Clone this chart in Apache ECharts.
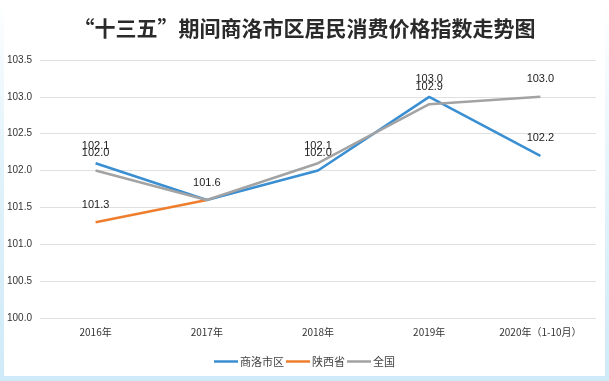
<!DOCTYPE html>
<html><head><meta charset="utf-8">
<script src="https://cdn.jsdelivr.net/npm/echarts@6/dist/echarts.min.js"></script>
<style>html,body{margin:0;padding:0;background:#fff}#c{width:609px;height:381px}</style>
</head><body><div id="c"></div>
<script>
var titleText = '“十三五”期间商洛市区居民消费价格指数走势图';
var categories = ['2016年', '2017年', '2018年', '2019年', '2020年（1-10月）'];
var seriesNames = ['商洛市区', '陕西省', '全国'];
var shangluo = [102.1, 101.6, 102.0, 103.0, 102.2];
var shaanxi = [101.3, 101.6, null, null, null];
var national = [102.0, 101.6, 102.1, 102.9, 103.0];
var yMin = 100.0, yMax = 103.5, yStep = 0.5;

var colors = ['#3a8fd3', '#ee7d2e', '#a3a3a3'];
var chart = echarts.init(document.getElementById('c'), null, {renderer: 'canvas'});

function mkSeries(name, data, color, z, hideIdx) {
  return {
    name: name, type: 'line', data: data.map(function (v, i) {
      if (hideIdx && hideIdx.indexOf(i) >= 0) return {value: v, label: {show: false}};
      return v;
    }),
    z: z, symbol: 'circle', symbolSize: 0.01, showSymbol: true,
    connectNulls: false,
    lineStyle: {color: color, width: 2.5},
    itemStyle: {color: color},
    label: {show: true, position: 'top', distance: 12, fontSize: 11, color: '#222',
      fontFamily: 'Liberation Sans, Arial, sans-serif',
      formatter: function (p) { return p.value == null ? '' : Number(p.value).toFixed(1); }},
    emphasis: {disabled: true}
  };
}

chart.setOption({
  backgroundColor: '#fff',
  animation: false,
  graphic: [
    {type: 'rect', shape: {x: 0, y: 0, width: 4, height: 381}, z: -10,
      style: {fill: new echarts.graphic.LinearGradient(0, 0, 0, 1, [{offset: 0, color: '#ffffff'}, {offset: 0.4, color: '#e2f3fb'}, {offset: 1, color: '#cfeaf8'}])}},
    {type: 'rect', shape: {x: 0, y: 376, width: 609, height: 5}, z: -10, style: {fill: '#cfeaf8'}},
    {type: 'rect', shape: {x: 605, y: 0, width: 4, height: 381}, z: -10,
      style: {fill: new echarts.graphic.LinearGradient(0, 0, 0, 1, [{offset: 0, color: '#ffffff'}, {offset: 0.5, color: '#e2f3fb'}, {offset: 1, color: '#cfeaf8'}])}}
  ],
  title: {text: titleText, left: 'center', top: 13,
    textStyle: {fontSize: 21, fontWeight: 'bold', color: '#2a2a2a', fontFamily: 'Noto Sans CJK SC'}},
  legend: {data: seriesNames, bottom: 9, left: 'center', icon: 'rect', itemWidth: 24, itemHeight: 2.5, itemGap: 2,
    textStyle: {fontSize: 11, color: '#444', fontFamily: 'Noto Sans CJK SC', padding: [0, 0, 0, -3]}},
  grid: {left: 40, right: 13, top: 60, bottom: 63},
  xAxis: {type: 'category', data: categories, boundaryGap: true,
    axisLine: {show: false}, axisTick: {show: false},
    axisLabel: {fontSize: 10, color: '#333', margin: 9, fontFamily: 'Noto Sans CJK SC'}},
  yAxis: {type: 'value', min: yMin, max: yMax, interval: yStep,
    axisLine: {show: false}, axisTick: {show: false},
    splitLine: {lineStyle: {color: '#e0e0e0', width: 1}},
    axisLabel: {fontSize: 10, color: '#333', margin: 8, fontFamily: 'Liberation Sans, Arial, sans-serif',
      formatter: function (v) { return v.toFixed(1); }}},
  color: colors,
  series: [
    mkSeries(seriesNames[0], shangluo, colors[0], 3),
    mkSeries(seriesNames[1], shaanxi, colors[1], 2, [1]),
    mkSeries(seriesNames[2], national, colors[2], 4, [1])
  ]
});
</script></body></html>
